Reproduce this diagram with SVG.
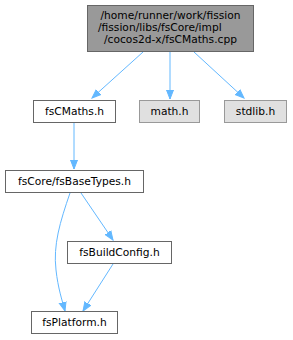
<svg xmlns="http://www.w3.org/2000/svg" width="293" height="340" viewBox="0 0 293 340">
<style>
text{font-family:"DejaVu Sans",sans-serif;font-size:10.67px;fill:#000;text-anchor:middle}
.n rect{fill:#fff;stroke:#666;stroke-width:1}
.g rect{fill:#e0e0e0;stroke:#999;stroke-width:1}
.m rect{fill:#999;stroke:#666;stroke-width:1}
.e{fill:none;stroke:#63b8ff;stroke-width:1}
</style>
<defs>
<marker id="a" markerWidth="10" markerHeight="10" refX="9" refY="5" orient="auto" markerUnits="userSpaceOnUse">
<path d="M0,1.5 L9,5 L0,8.5 Z" fill="#63b8ff" stroke="#63b8ff"/>
</marker>
</defs>
<g id="connectors">
<path class="e" d="M143,52 L92,98" marker-end="url(#a)"/>
<path class="e" d="M170,52 L170,99" marker-end="url(#a)"/>
<path class="e" d="M194,52 L244,98" marker-end="url(#a)"/>
<path class="e" d="M74,123 L74,169" marker-end="url(#a)"/>
<path class="e" d="M81,193 L113,240" marker-end="url(#a)"/>
<path class="e" d="M70,193 C60,222 53,245 56,270 C58,288 62,300 65,311" marker-end="url(#a)"/>
<path class="e" d="M113,264 L83,311" marker-end="url(#a)"/>
</g>
<g id="node1" class="m">
<rect x="87.5" y="5.5" width="166" height="46"/>
<text x="170.5" y="19">/home/runner/work/fission</text>
<text x="98" y="31" style="text-anchor:start">/fission/libs/fsCore/impl</text>
<text x="170.5" y="43">/cocos2d-x/fsCMaths.cpp</text>
</g>
<g id="node2" class="n">
<rect x="33.5" y="100.5" width="82" height="22"/>
<text x="74.5" y="115">fsCMaths.h</text>
</g>
<g id="node3" class="g">
<rect x="139.5" y="100.5" width="60" height="22"/>
<text x="169.5" y="115">math.h</text>
</g>
<g id="node4" class="g">
<rect x="224.5" y="100.5" width="62" height="22"/>
<text x="255.5" y="115">stdlib.h</text>
</g>
<g id="node5" class="n">
<rect x="5.5" y="170.5" width="138" height="22"/>
<text x="74.5" y="185">fsCore/fsBaseTypes.h</text>
</g>
<g id="node6" class="n">
<rect x="67.5" y="241.5" width="104" height="22"/>
<text x="119.5" y="256">fsBuildConfig.h</text>
</g>
<g id="node7" class="n">
<rect x="31.5" y="311.5" width="86" height="22"/>
<text x="74.5" y="326">fsPlatform.h</text>
</g>
</svg>
